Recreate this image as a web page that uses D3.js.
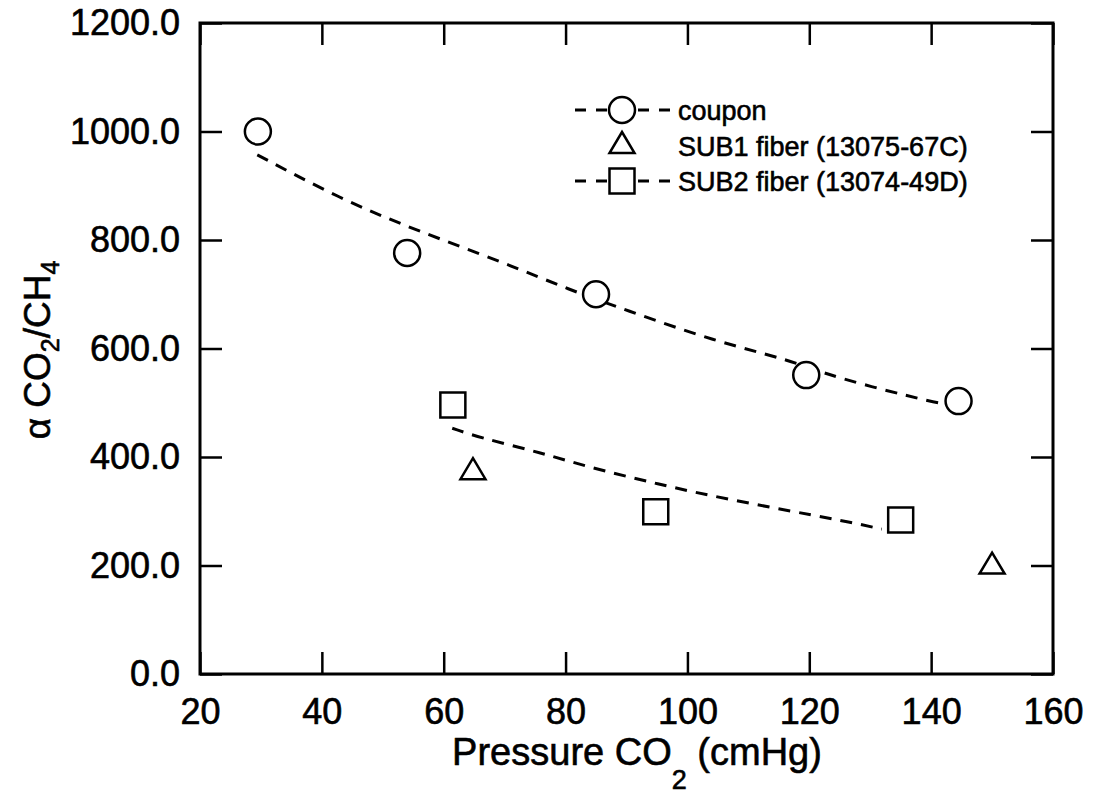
<!DOCTYPE html>
<html>
<head>
<meta charset="utf-8">
<script src="https://cdn.jsdelivr.net/npm/d3@7"></script>
<style>
  body { margin: 0; background: #fff; }
  svg text { font-family: "Liberation Sans", Arial, Helvetica, sans-serif; fill: #000; stroke: #000; stroke-width: 0.6px; }
</style>
</head>
<body>
<svg id="chart" width="1098" height="802"></svg>
<script>
// tick values
const xTicks = [20, 40, 60, 80, 100, 120, 140, 160];
const yTicks = [0, 200, 400, 600, 800, 1000, 1200];

// coupon (circles)
const couponP = [29.5, 54, 85, 119.5, 144.5];
const couponA = [1000, 776, 700, 551, 503];

// SUB1 fiber (triangles)
const sub1P = [64.8, 150];
const sub1A = [372, 198];

// SUB2 fiber (squares)
const sub2P = [61.5, 94.8, 135];
const sub2A = [496, 299, 284];

// dashed fit lines
const couponFitP = [29.4, 43, 55, 70.4, 80.7, 89.4, 104.8, 116.3, 123.9, 140.3, 142.3];
const couponFitA = [957, 876, 820, 756, 708, 673, 612, 581, 547, 501, 498];
const sub2FitP = [61.4, 65.5, 76.3, 83.5, 93.8, 103, 118.5, 126.7, 131.9];
const sub2FitA = [453, 437, 407, 382, 354, 330, 297, 280, 267];

const legendLabels = ["coupon", "SUB1 fiber (13075-67C)", "SUB2 fiber (13074-49D)"];

const svg = d3.select("#chart");

const plotLeft = 200, plotRight = 1053, plotTop = 23, plotBottom = 674;

const x = d3.scaleLinear().domain([20, 160]).range([plotLeft, plotRight]);
const y = d3.scaleLinear().domain([0, 1200]).range([plotBottom, plotTop]);

// markers
const circlePath = r => `M${r},0A${r},${r} 0 1,1 ${-r},0A${r},${r} 0 1,1 ${r},0Z`;
const squarePath = s => `M${-s/2},${-s/2}h${s}v${s}h${-s}Z`;
const trianglePath = (w, h) => `M0,${-2*h/3}L${w/2},${h/3}L${-w/2},${h/3}Z`;

const shapes = {
    circle: circlePath(13),
    square: squarePath(25),
    triangle: trianglePath(25, 21)
};

const tickFont = 36;

// bottom axis
const gx = svg.append("g")
    .attr("transform", `translate(0,${plotBottom})`)
    .call(d3.axisBottom(x).tickValues(xTicks).tickSize(-22).tickSizeOuter(0).tickPadding(24).tickFormat(d3.format("d")));

// left axis
const gy = svg.append("g")
    .attr("transform", `translate(${plotLeft},0)`)
    .call(d3.axisLeft(y).tickValues(yTicks).tickSize(-22).tickSizeOuter(0).tickPadding(20).tickFormat(d3.format(".1f")));

// top and right ticks without labels
const gt = svg.append("g")
    .attr("transform", `translate(0,${plotTop})`)
    .call(d3.axisTop(x).tickValues(xTicks).tickSize(-22).tickSizeOuter(0).tickFormat(""));
const gr = svg.append("g")
    .attr("transform", `translate(${plotRight},0)`)
    .call(d3.axisRight(y).tickValues(yTicks).tickSize(-22).tickSizeOuter(0).tickFormat(""));

[gx, gy, gt, gr].forEach(g => {
    g.select(".domain").remove();
    g.selectAll(".tick line").attr("stroke", "#000").attr("stroke-width", 2.5);
    g.selectAll(".tick text")
        .style("font-size", tickFont + "px")
        .attr("fill", "#000");
});

// frame
svg.append("rect")
    .attr("x", plotLeft)
    .attr("y", plotTop)
    .attr("width", plotRight - plotLeft)
    .attr("height", plotBottom - plotTop)
    .attr("fill", "none")
    .attr("stroke", "#000")
    .attr("stroke-width", 3);

// fit lines
const line = d3.line()
    .x(d => x(d[0]))
    .y(d => y(d[1]))
    .curve(d3.curveBasis);

const fits = [
    d3.zip(couponFitP, couponFitA),
    d3.zip(sub2FitP, sub2FitA)
];

svg.append("g")
    .selectAll("path")
    .data(fits)
    .enter()
    .append("path")
    .attr("d", line)
    .attr("fill", "none")
    .attr("stroke", "#000")
    .attr("stroke-width", 3)
    .attr("stroke-dasharray", "12,9");

// points
const series = [
    { shape: "circle", pts: d3.zip(couponP, couponA) },
    { shape: "triangle", pts: d3.zip(sub1P, sub1A) },
    { shape: "square", pts: d3.zip(sub2P, sub2A) }
];

series.forEach(s => {
    svg.append("g")
        .selectAll("path")
        .data(s.pts)
        .enter()
        .append("path")
        .attr("transform", d => `translate(${x(d[0])},${y(d[1])})`)
        .attr("d", shapes[s.shape])
        .attr("fill", "#fff")
        .attr("stroke", "#000")
        .attr("stroke-width", 2.5)
        .attr("stroke-linejoin", "miter");
});

// legend
const legendX = 622, legendY = [110, 146, 181];
const legendShapes = ["circle", "triangle", "square"];
const legendDashed = [true, false, true];

const legend = svg.append("g");
legendLabels.forEach((label, i) => {
    const row = legend.append("g").attr("transform", `translate(${legendX},${legendY[i]})`);
    if (legendDashed[i]) {
        row.append("line")
            .attr("x1", -47).attr("x2", 48)
            .attr("stroke", "#000")
            .attr("stroke-width", 3)
            .attr("stroke-dasharray", "11,10");
    }
    row.append("path")
        .attr("d", shapes[legendShapes[i]])
        .attr("fill", "#fff")
        .attr("stroke", "#000")
        .attr("stroke-width", 2.5);
    row.append("text")
        .attr("x", 56)
        .attr("y", 9.5)
        .style("font-size", "27px")
        .text(label);
});

// x axis title
const xt = svg.append("text")
    .attr("x", 637)
    .attr("y", 765)
    .attr("text-anchor", "middle")
    .style("font-size", "38px");
xt.append("tspan").text("Pressure CO");
xt.append("tspan").attr("dy", 24).style("font-size", "27px").text("2");
xt.append("tspan").attr("dy", -24).text(" (cmHg)");

// y axis title
const yt = svg.append("text")
    .attr("transform", "translate(50,350) rotate(-90)")
    .attr("text-anchor", "middle")
    .style("font-size", "37px");
yt.append("tspan").text("\u03b1 CO");
yt.append("tspan").attr("dy", 9).style("font-size", "25px").text("2");
yt.append("tspan").attr("dy", -9).text("/CH");
yt.append("tspan").attr("dy", 9).style("font-size", "25px").text("4");
</script>
</body>
</html>
